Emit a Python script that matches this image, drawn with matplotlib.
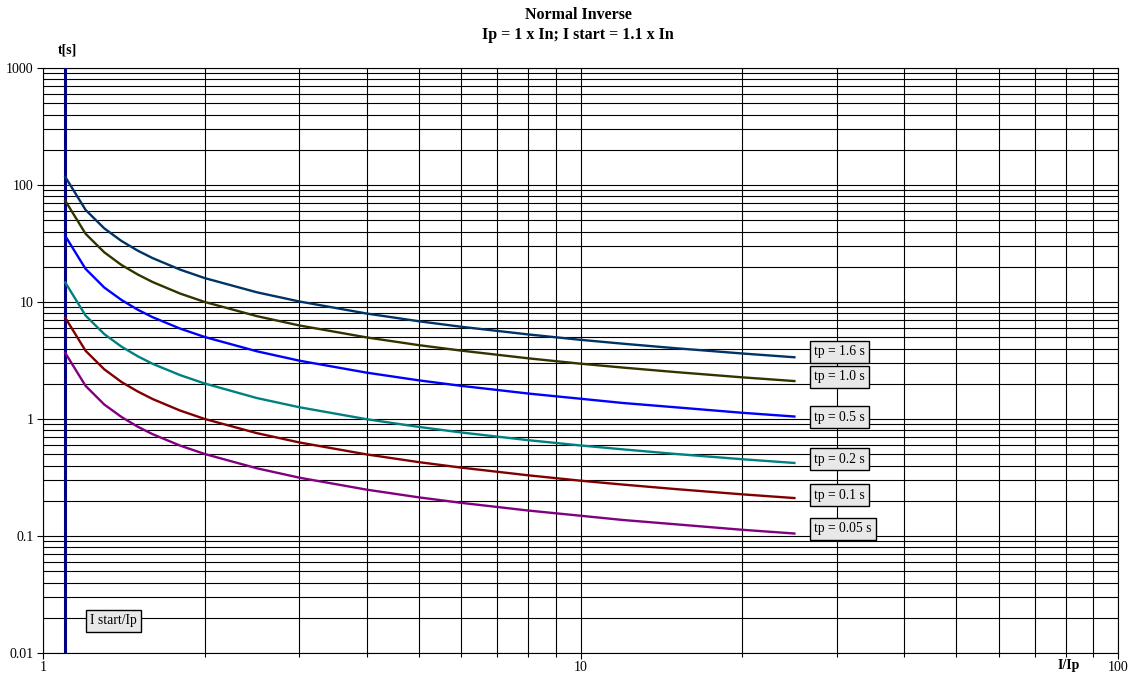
import matplotlib
matplotlib.use("Agg")
import matplotlib.pyplot as plt
from matplotlib.ticker import LogLocator, NullFormatter, FixedLocator, FixedFormatter

plt.rcParams['font.family'] = ['Liberation Serif', 'DejaVu Serif']

# Data
i_ratio = [1.1, 1.2, 1.3, 1.4, 1.5, 1.6, 1.8, 2, 2.5, 3, 4, 5, 6, 8, 10, 12, 15, 20, 25]
t_16 = [117.4, 61.3, 42.6, 33.2, 27.5, 23.7, 18.9, 16.0, 12.1, 10.1, 7.97, 6.85, 6.14, 5.28, 4.75, 4.40, 4.03, 3.63, 3.37]
t_10 = [73.4, 38.3, 26.6, 20.7, 17.2, 14.8, 11.8, 10.0, 7.57, 6.30, 4.98, 4.28, 3.84, 3.30, 2.97, 2.75, 2.52, 2.27, 2.11]
t_05 = [36.7, 19.2, 13.3, 10.4, 8.60, 7.41, 5.92, 5.02, 3.79, 3.15, 2.49, 2.14, 1.92, 1.65, 1.49, 1.37, 1.26, 1.13, 1.05]
t_02 = [14.7, 7.66, 5.32, 4.15, 3.44, 2.96, 2.37, 2.01, 1.51, 1.26, 0.996, 0.856, 0.767, 0.659, 0.594, 0.550, 0.503, 0.453, 0.421]
t_01 = [7.34, 3.83, 2.66, 2.07, 1.72, 1.48, 1.18, 1.00, 0.757, 0.630, 0.498, 0.428, 0.384, 0.330, 0.297, 0.275, 0.252, 0.227, 0.211]
t_005 = [3.67, 1.92, 1.33, 1.04, 0.860, 0.741, 0.592, 0.502, 0.379, 0.315, 0.249, 0.214, 0.192, 0.165, 0.149, 0.137, 0.126, 0.113, 0.105]

series = [t_16, t_10, t_05, t_02, t_01, t_005]
labels = ["tp = 1.6 s", "tp = 1.0 s", "tp = 0.5 s", "tp = 0.2 s", "tp = 0.1 s", "tp = 0.05 s"]
colors = ["#003366", "#333300", "#0000FF", "#008080", "#800000", "#800080"]
label_y = [3.74, 2.29, 1.04, 0.455, 0.224, 0.115]

i_start = 1.1
x_ticks = [1, 10, 100]
x_tick_labels = ["1", "10", "100"]
y_ticks = [0.01, 0.1, 1, 10, 100, 1000]
y_tick_labels = ["0.01", "0.1", "1", "10", "100", "1000"]

fig = plt.figure(figsize=(11.45, 6.75), dpi=100)
ax = fig.add_axes([43/1145, 1-653/675, (1118-43)/1145, (653-68)/675])
ax.set_xscale('log')
ax.set_yscale('log')
ax.set_xlim(1, 100)
ax.set_ylim(0.01, 1000)

ax.grid(True, which='both', color='black', linewidth=0.8)
ax.set_axisbelow(True)

ax.axvline(i_start, color='#000080', linewidth=2.2, zorder=3)

for ys, c in zip(series, colors):
    ax.plot(i_ratio, ys, color=c, linewidth=1.7, zorder=4)

box = dict(boxstyle='square,pad=0.32', facecolor='#e8e8e8', edgecolor='black', linewidth=1.0)
for lab, ly in zip(labels, label_y):
    ax.text(27.2, ly, lab, fontsize=9.8, ha='left', va='center', bbox=box, zorder=5)

ax.text(1.225, 0.0188, "I start/Ip", fontsize=9.8, ha='left', va='center', bbox=box, zorder=5)

ax.xaxis.set_major_locator(FixedLocator(x_ticks))
ax.xaxis.set_major_formatter(FixedFormatter(x_tick_labels))
ax.xaxis.set_minor_locator(LogLocator(base=10, subs=range(2, 10)))
ax.xaxis.set_minor_formatter(NullFormatter())
ax.yaxis.set_major_locator(FixedLocator(y_ticks))
ax.yaxis.set_major_formatter(FixedFormatter(y_tick_labels))
ax.yaxis.set_minor_locator(LogLocator(base=10, subs=range(2, 10)))
ax.yaxis.set_minor_formatter(NullFormatter())
ax.tick_params(axis='both', which='major', labelsize=10, length=4, width=0.8, direction='out')
ax.tick_params(axis='x', which='major', pad=1.5)
ax.tick_params(axis='y', which='major', pad=3)
ax.tick_params(axis='x', which='minor', length=3, width=0.8)
ax.tick_params(axis='y', which='minor', length=0)
for s in ax.spines.values():
    s.set_color('black')
    s.set_linewidth(0.8)

fig.text(578/1145, 1-15/675, "Normal Inverse", ha='center', va='center', fontsize=11.5, fontweight='bold')
fig.text(578/1145, 1-35/675, "Ip = 1 x In; I start = 1.1 x In", ha='center', va='center', fontsize=11.5, fontweight='bold')
fig.text(67/1145, 1-50/675, "t[s]", ha='center', va='center', fontsize=10, fontweight='bold')
fig.text(1069/1145, 1-666/675, "I/Ip", ha='center', va='center', fontsize=10, fontweight='bold')

fig.savefig("out.png", dpi=100)
